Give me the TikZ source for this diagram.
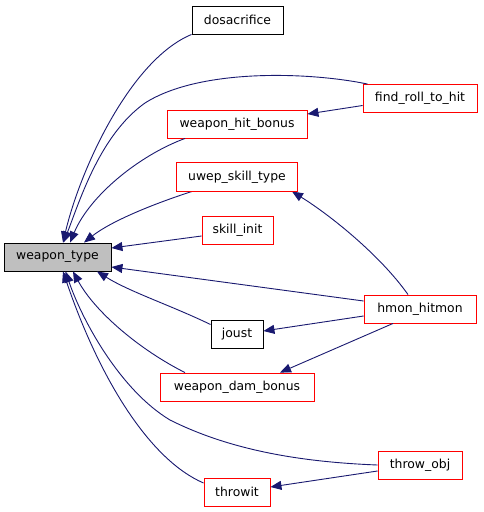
\documentclass[tikz,border=0pt]{standalone}
\usepackage{fontspec}
\setmainfont{DejaVu Sans}
\usetikzlibrary{arrows.meta}
\definecolor{edgeblue}{HTML}{191970}
\definecolor{fillgray}{HTML}{BFBFBF}
\definecolor{boxred}{HTML}{FF0000}
\begin{document}
\begin{tikzpicture}[x=1pt,y=-1pt,
  fn/.style={rectangle, minimum height=28pt, inner sep=0pt, line width=0.9pt,
     font=\fontsize{12.4}{14}\selectfont},
  redfn/.style={fn, draw=boxred},
  blackfn/.style={fn, draw=black},
  edge/.style={draw=edgeblue, line width=0.9pt,
     -{Triangle[length=11pt,width=9pt]}}]
\useasboundingbox (0,0) rectangle (483,512);
\fill[white] (0,0) rectangle (483,512);

\node[blackfn, fill=fillgray, minimum width=107pt] (weapon_type) at (57.5,257) {weapon\_type};
\node[blackfn, minimum width=91pt] (dosacrifice) at (237.5,20) {dosacrifice};
\node[redfn, minimum width=114pt] (find_roll_to_hit) at (420,98.5) {find\_roll\_to\_hit};
\node[redfn, minimum width=140pt] (weapon_hit_bonus) at (237,124) {weapon\_hit\_bonus};
\node[fn, minimum width=120pt] (uwep) at (237,177) {uwep\_skill\_type};
\node[redfn, minimum width=71pt] (skill_init) at (237.5,230) {skill\_init};
\node[redfn, minimum width=112pt] (hmon_hitmon) at (420,309) {hmon\_hitmon};
\node[blackfn, minimum width=52pt] (joust) at (237,334.5) {joust};
\node[redfn, minimum width=154pt] (weapon_dam_bonus) at (237,387) {weapon\_dam\_bonus};
\node[redfn, minimum width=84pt] (throw_obj) at (420,465) {throw\_obj};
\node[redfn, minimum width=66pt] (throwit) at (237,492) {throwit};

% edges into weapon_type (top)
\draw[edge] (dosacrifice.south west) .. controls (130,60) and (80,170) .. ([xshift=5.5pt]weapon_type.north);
\draw[edge] ([xshift=5pt]find_roll_to_hit.north west) .. controls (310,72) and (200,68) .. (145,103)
   .. controls (100,135) and (80,200) .. ([xshift=6pt]weapon_type.north);
\draw[edge] ([xshift=-52pt]weapon_hit_bonus.south) .. controls (140,155) and (90,195) .. ([xshift=12.5pt]weapon_type.north);
\draw[edge] ([xshift=-45pt]uwep.south) .. controls (150,205) and (110,222) .. ([xshift=26.5pt]weapon_type.north);
\draw[edge] ([yshift=-6pt]skill_init.west) -- ([yshift=9pt]weapon_type.east);
\draw[edge] ([yshift=8pt]hmon_hitmon.west) -- ([yshift=-10pt]weapon_type.east);

% edges into weapon_type (bottom)
\draw[edge] ([yshift=10pt]joust.west) .. controls (170,305) and (130,292) .. ([xshift=39.5pt]weapon_type.south);
\draw[edge] ([xshift=-52pt]weapon_dam_bonus.north) .. controls (140,350) and (95,312) .. ([xshift=15.5pt]weapon_type.south);
\draw[edge] (throw_obj.west) .. controls (300,462) and (230,450) .. (170,420)
   .. controls (120,390) and (82,320) .. ([xshift=8pt]weapon_type.south);
\draw[edge] ([yshift=9pt]throwit.west) .. controls (150,460) and (100,380) .. ([xshift=5.5pt]weapon_type.south);

% other edges
\draw[edge] ([yshift=-7pt]find_roll_to_hit.west) -- ([yshift=10pt]weapon_hit_bonus.east);
\draw[edge] ([xshift=-12pt]hmon_hitmon.north) .. controls (380,255) and (330,215) .. ([xshift=55pt]uwep.south);
\draw[edge] ([yshift=-7pt]hmon_hitmon.west) -- ([yshift=3.5pt]joust.east);
\draw[edge] ([xshift=-27pt]hmon_hitmon.south) -- ([xshift=43pt]weapon_dam_bonus.north);
\draw[edge] ([yshift=-6pt]throw_obj.west) -- ([yshift=5pt]throwit.east);

% red border of uwep_skill_type
\draw[boxred, line width=0.9pt] (uwep.south west) rectangle (uwep.north east);
\end{tikzpicture}
\end{document}
